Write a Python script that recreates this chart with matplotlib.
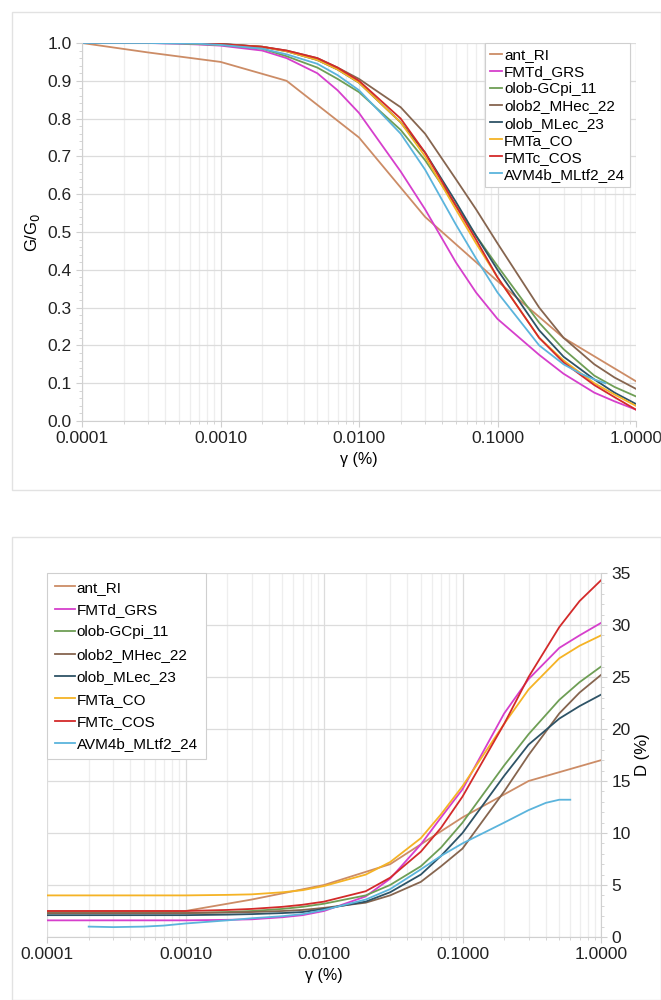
import matplotlib
matplotlib.use("Agg")
import matplotlib.pyplot as plt
from matplotlib.ticker import FixedLocator, LogLocator, MultipleLocator, NullFormatter
from matplotlib.patches import Rectangle

plt.rcParams['font.family'] = ['Liberation Sans', 'DejaVu Sans']

# strain values (%)
gamma = [0.0001, 0.0002, 0.0003, 0.0005, 0.0007, 0.001, 0.002, 0.003, 0.005, 0.007,
         0.01, 0.02, 0.03, 0.05, 0.07, 0.1, 0.2, 0.3, 0.5, 0.7, 1.0]
gamma_ant = [0.0001, 0.0003, 0.001, 0.003, 0.01, 0.03, 0.1, 0.3, 1.0]
gamma_avm_g = [0.0001, 0.0002, 0.0003, 0.0005, 0.0007, 0.001, 0.002, 0.003, 0.005, 0.007,
               0.01, 0.02, 0.03, 0.05, 0.07, 0.1, 0.2, 0.3, 0.4, 0.5, 0.6]
gamma_avm_d = [0.0002, 0.0003, 0.0005, 0.0007, 0.001, 0.002, 0.003, 0.005, 0.007,
               0.01, 0.02, 0.03, 0.05, 0.07, 0.1, 0.2, 0.3, 0.4, 0.5, 0.6]

# G/G0 curves
g_ant = [1.0, 0.975, 0.95, 0.9, 0.75, 0.54, 0.37, 0.22, 0.105]
g_fmtd = [1.0, 1.0, 1.0, 0.998, 0.996, 0.993, 0.98, 0.96, 0.92, 0.875, 0.815, 0.66, 0.56,
          0.42, 0.34, 0.27, 0.175, 0.125, 0.075, 0.052, 0.03]
g_gcpi = [1.0, 1.0, 1.0, 0.999, 0.997, 0.995, 0.985, 0.965, 0.935, 0.905, 0.87, 0.77, 0.69,
          0.57, 0.49, 0.41, 0.26, 0.19, 0.12, 0.09, 0.065]
g_mhec = [1.0, 1.0, 1.0, 1.0, 0.999, 0.998, 0.99, 0.98, 0.96, 0.935, 0.905, 0.83, 0.76,
          0.64, 0.56, 0.47, 0.30, 0.22, 0.15, 0.115, 0.085]
g_mlec = [1.0, 1.0, 1.0, 1.0, 0.999, 0.997, 0.99, 0.978, 0.955, 0.93, 0.895, 0.79, 0.71,
          0.58, 0.49, 0.40, 0.24, 0.17, 0.11, 0.075, 0.045]
g_fmta = [1.0, 1.0, 1.0, 1.0, 0.998, 0.996, 0.99, 0.978, 0.955, 0.93, 0.895, 0.79, 0.70,
          0.56, 0.47, 0.38, 0.22, 0.16, 0.10, 0.07, 0.04]
g_fmtc = [1.0, 1.0, 1.0, 1.0, 0.999, 0.997, 0.99, 0.98, 0.96, 0.935, 0.90, 0.80, 0.71,
          0.57, 0.48, 0.38, 0.22, 0.155, 0.095, 0.063, 0.03]
g_avm = [1.0, 1.0, 1.0, 0.999, 0.998, 0.995, 0.985, 0.97, 0.945, 0.915, 0.875, 0.76, 0.665,
         0.52, 0.43, 0.34, 0.20, 0.15, 0.125, 0.11, 0.10]

# damping curves (%)
d_ant = [2.5, 2.5, 2.5, 3.6, 5.0, 7.0, 11.5, 15.0, 17.0]
d_fmtd = [1.6, 1.6, 1.6, 1.6, 1.6, 1.6, 1.65, 1.7, 1.9, 2.1, 2.5, 3.9, 5.6, 8.9, 11.5, 14.2,
          21.5, 24.8, 27.8, 29.0, 30.2]
d_gcpi = [2.3, 2.3, 2.3, 2.3, 2.3, 2.3, 2.4, 2.5, 2.7, 2.9, 3.2, 4.0, 5.0, 6.8, 8.6, 11.0,
          16.5, 19.5, 22.8, 24.5, 26.0]
d_mhec = [2.3, 2.3, 2.3, 2.3, 2.3, 2.3, 2.35, 2.4, 2.5, 2.6, 2.8, 3.3, 4.0, 5.3, 6.8, 8.5,
          14.0, 17.5, 21.5, 23.5, 25.2]
d_mlec = [2.1, 2.1, 2.1, 2.1, 2.1, 2.1, 2.15, 2.2, 2.3, 2.4, 2.7, 3.4, 4.3, 6.0, 7.8, 10.0,
          15.5, 18.5, 21.0, 22.2, 23.3]
d_fmta = [4.0, 4.0, 4.0, 4.0, 4.0, 4.0, 4.05, 4.1, 4.3, 4.5, 4.9, 6.0, 7.2, 9.5, 11.8, 14.5,
          20.5, 23.8, 26.8, 28.0, 29.0]
d_fmtc = [2.5, 2.5, 2.5, 2.5, 2.5, 2.5, 2.6, 2.7, 2.9, 3.1, 3.4, 4.4, 5.7, 8.2, 10.5, 13.5,
          20.5, 25.0, 29.8, 32.3, 34.3]
d_avm = [1.0, 0.95, 1.0, 1.1, 1.3, 1.6, 1.8, 2.0, 2.2, 2.6, 3.6, 4.6, 6.5, 7.8, 9.0, 11.0,
         12.2, 12.9, 13.2, 13.2]

names = ['ant_RI', 'FMTd_GRS', 'olob-GCpi_11', 'olob2_MHec_22', 'olob_MLec_23',
         'FMTa_CO', 'FMTc_COS', 'AVM4b_MLtf2_24']
colors = ['#CC8C66', '#D63FCC', '#6E9E55', '#86654F', '#2E5366',
          '#F5B325', '#D32A2A', '#5BB4DC']

g_x = [gamma_ant, gamma, gamma, gamma, gamma, gamma, gamma, gamma_avm_g]
g_y = [g_ant, g_fmtd, g_gcpi, g_mhec, g_mlec, g_fmta, g_fmtc, g_avm]
d_x = [gamma_ant, gamma, gamma, gamma, gamma, gamma, gamma, gamma_avm_d]
d_y = [d_ant, d_fmtd, d_gcpi, d_mhec, d_mlec, d_fmta, d_fmtc, d_avm]

grid_major = '#dcdcdc'
grid_minor = '#eeeeee'

fig = plt.figure(figsize=(6.61, 10), dpi=100)

# chart frames
fig.patches.append(Rectangle((12 / 661, 1 - 490 / 1000), 649 / 661, 478 / 1000,
                             transform=fig.transFigure, fill=False, ec='#e2e2e2', lw=1))
fig.patches.append(Rectangle((12 / 661, 0), 649 / 661, 463 / 1000,
                             transform=fig.transFigure, fill=False, ec='#e2e2e2', lw=1))


def style_axes(ax):
    ax.set_xscale('log')
    ax.set_xlim(0.0001, 1.0)
    ax.xaxis.set_major_locator(FixedLocator([0.0001, 0.001, 0.01, 0.1, 1.0]))
    ax.set_xticklabels(['0.0001', '0.0010', '0.0100', '0.1000', '1.0000'])
    ax.xaxis.set_minor_locator(LogLocator(base=10, subs=range(2, 10)))
    ax.xaxis.set_minor_formatter(NullFormatter())
    ax.grid(True, which='major', color=grid_major, lw=0.9)
    ax.grid(True, which='minor', axis='x', color=grid_minor, lw=0.9)
    ax.set_axisbelow(True)
    for s in ['top', 'right', 'left', 'bottom']:
        ax.spines[s].set_visible(False)
    ax.tick_params(which='both', color='#cfcfcf', labelsize=12.5, labelcolor='#222222')
    ax.tick_params(which='major', length=4)
    ax.tick_params(which='minor', length=2.5)
    ax.set_xlabel('γ (%)', fontsize=11.5, labelpad=4)


# G/G0
ax1 = fig.add_axes([82 / 661, 1 - 421 / 1000, 554 / 661, 378 / 1000])
for xs, ys, c, n in zip(g_x, g_y, colors, names):
    ax1.plot(xs, ys, color=c, lw=1.3, label=n)
style_axes(ax1)
ax1.set_ylim(0, 1.0)
ax1.yaxis.set_major_locator(MultipleLocator(0.1))
ax1.yaxis.set_minor_locator(MultipleLocator(0.02))
ax1.set_yticklabels([f'{v:.1f}' for v in ax1.get_yticks()])
ax1.spines['left'].set_visible(True)
ax1.spines['left'].set_color('#d0d0d0')
ax1.spines['bottom'].set_visible(True)
ax1.spines['bottom'].set_color('#d0d0d0')
ax1.set_ylabel('G/G$_0$', fontsize=12, labelpad=4)
leg1 = ax1.legend(loc='upper right', bbox_to_anchor=(0.99, 1.0), borderaxespad=0,
                  fontsize=11, handlelength=0.75, handletextpad=0.15, labelspacing=0.2,
                  borderpad=0.35, fancybox=False, framealpha=1)
leg1.get_frame().set_edgecolor('#cfcfcf')
leg1.get_frame().set_linewidth(0.8)

# damping
ax2 = fig.add_axes([47 / 661, 1 - 937 / 1000, 554 / 661, 364 / 1000])
for xs, ys, c, n in zip(d_x, d_y, colors, names):
    ax2.plot(xs, ys, color=c, lw=1.3, label=n)
style_axes(ax2)
ax2.set_ylim(0, 35)
ax2.yaxis.set_major_locator(MultipleLocator(5))
ax2.yaxis.set_minor_locator(MultipleLocator(1))
ax2.yaxis.tick_right()
ax2.yaxis.set_label_position('right')
ax2.spines['right'].set_visible(True)
ax2.spines['right'].set_color('#d0d0d0')
ax2.spines['bottom'].set_visible(True)
ax2.spines['bottom'].set_color('#d0d0d0')
ax2.set_ylabel('D (%)', fontsize=12, labelpad=3)
leg2 = ax2.legend(loc='upper left', bbox_to_anchor=(0.0, 1.0), borderaxespad=0,
                  fontsize=11, handlelength=1.3, handletextpad=0.15, labelspacing=0.55,
                  borderpad=0.5, fancybox=False, framealpha=1)
leg2.get_frame().set_edgecolor('#cfcfcf')
leg2.get_frame().set_linewidth(0.8)

fig.savefig('out.png', dpi=100)
